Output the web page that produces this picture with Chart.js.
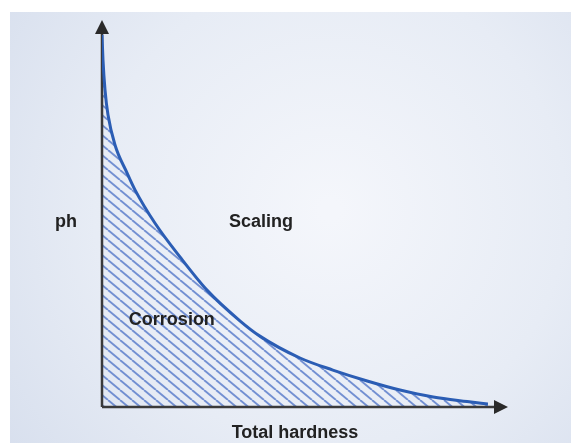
<!DOCTYPE html>
<html>
<head>
<meta charset="utf-8">
<script src="https://cdn.jsdelivr.net/npm/chart.js@4.4.1/dist/chart.umd.min.js"></script>
<style>
  html, body { margin: 0; padding: 0; background: #fff; }
  #wrap { width: 571px; height: 443px; }
</style>
</head>
<body>
<div id="wrap"><canvas id="chart" width="571" height="443"></canvas></div>
<script>
// Curve (x: total hardness, y: ph, both 0..100)
const hardness = [0, 0.26, 0.78, 1.55, 3.37, 6.48, 8.55, 13.7, 20.2, 27.2, 35.8, 40.9, 51.3, 59.8, 68.7, 77.2, 85.8, 94.6, 100];
const phValues = [98.7, 92.0, 84.1, 77.5, 69.5, 62.1, 57.6, 48.8, 39.8, 31.0, 22.8, 18.8, 13.0, 9.8, 6.9, 4.5, 2.65, 1.46, 0.8];

const xTitle = 'Total hardness';
const yTitle = 'ph';
const regionNames = ['Scaling', 'Corrosion'];
const regionX = [41.2, 18.1];
const regionY = [49.1, 23.1];

const FONT = 'bold 18px "Liberation Sans", Arial, sans-serif';

// Diagonal hatch pattern for the corrosion area
function makeHatch() {
    const w = 12, h = 10;
    const c = document.createElement('canvas');
    c.width = w; c.height = h;
    const g = c.getContext('2d');
    g.strokeStyle = 'rgba(75, 112, 198, 0.75)';
    g.lineWidth = 1.9;
    for (let k = -1; k <= 1; k++) {
        g.beginPath();
        g.moveTo(k * w, 0);
        g.lineTo(k * w + w, h);
        g.stroke();
    }
    return g.createPattern(c, 'repeat');
}

const panelPlugin = {
    id: 'panel',
    beforeDraw(chart) {
        const ctx = chart.ctx;
        ctx.save();
        const grad = ctx.createRadialGradient(330, 210, 10, 330, 210, 420);
        grad.addColorStop(0, '#f4f6fb');
        grad.addColorStop(0.55, '#e7ecf5');
        grad.addColorStop(1, '#d6deed');
        ctx.fillStyle = grad;
        ctx.fillRect(10, 12, chart.width - 10, chart.height - 12);
        ctx.restore();
    },
    beforeDatasetsDraw(chart) {
        const { ctx, chartArea } = chart;
        const l = chartArea.left, b = chartArea.bottom;
        const xEnd = chartArea.right + 20, yEnd = chartArea.top - 10;
        ctx.save();
        ctx.strokeStyle = '#3a3a3a';
        ctx.fillStyle = '#2a2a2a';
        ctx.lineWidth = 2.5;
        ctx.beginPath();
        ctx.moveTo(l, b);
        ctx.lineTo(xEnd - 8, b);
        ctx.moveTo(l, b);
        ctx.lineTo(l, yEnd + 8);
        ctx.stroke();
        // arrow heads
        ctx.beginPath();
        ctx.moveTo(xEnd, b);
        ctx.lineTo(xEnd - 14, b - 7);
        ctx.lineTo(xEnd - 14, b + 7);
        ctx.closePath();
        ctx.fill();
        ctx.beginPath();
        ctx.moveTo(l, yEnd);
        ctx.lineTo(l - 7, yEnd + 14);
        ctx.lineTo(l + 7, yEnd + 14);
        ctx.closePath();
        ctx.fill();
        ctx.restore();
    },
    afterDatasetsDraw(chart) {
        const { ctx, chartArea, scales } = chart;
        ctx.save();
        ctx.font = FONT;
        ctx.fillStyle = '#222';
        ctx.textAlign = 'center';
        ctx.textBaseline = 'middle';
        regionNames.forEach((name, i) => {
            ctx.fillText(name, scales.x.getPixelForValue(regionX[i]), scales.y.getPixelForValue(regionY[i]));
        });
        ctx.fillText(yTitle, chartArea.left - 36, scales.y.getPixelForValue(49.1));
        ctx.restore();
    }
};

const ctx = document.getElementById('chart').getContext('2d');
const chart = new Chart(ctx, {
    type: 'line',
    data: {
        datasets: [{
            data: hardness.map((x, i) => ({ x: x, y: phValues[i] })),
            borderColor: '#2b5db4',
            borderWidth: 3,
            pointRadius: 0,
            cubicInterpolationMode: 'monotone',
            fill: 'origin',
            backgroundColor: makeHatch()
        }]
    },
    options: {
        responsive: false,
        animation: false,
        layout: { padding: { left: 102, right: 83, top: 30, bottom: 0 } },
        plugins: {
            legend: { display: false },
            tooltip: { enabled: false },
            filler: { drawTime: 'beforeDatasetsDraw' }
        },
        scales: {
            x: {
                type: 'linear',
                min: 0,
                max: 100,
                grid: { display: false, drawTicks: false },
                border: { display: false },
                ticks: { display: false },
                title: {
                    display: true,
                    text: xTitle,
                    color: '#222',
                    font: { family: '"Liberation Sans", Arial, sans-serif', size: 18, weight: 'bold', lineHeight: 1 },
                    padding: { top: 17, bottom: 1 }
                }
            },
            y: {
                display: false,
                min: 0,
                max: 100
            }
        }
    },
    plugins: [panelPlugin]
});
</script>
</body>
</html>
